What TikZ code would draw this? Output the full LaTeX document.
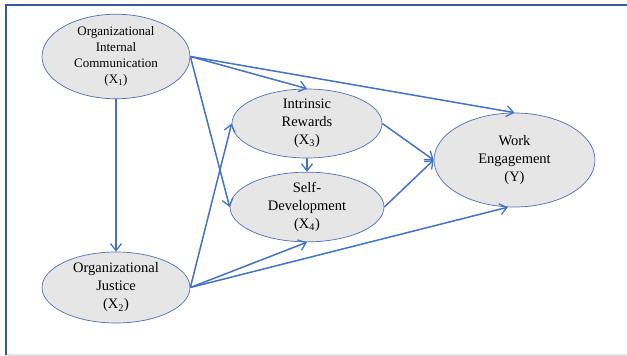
\documentclass[tikz,border=0pt]{standalone}
\usepackage{fontspec}
\setmainfont{Liberation Serif}
\usetikzlibrary{shapes.geometric,arrows.meta}
\definecolor{lineblue}{RGB}{68,114,196}
\definecolor{edgeblue}{RGB}{80,110,175}
\definecolor{fillgray}{RGB}{230,230,230}
\definecolor{botgray}{RGB}{225,225,235}
\tikzset{
  var/.style={ellipse, draw=edgeblue, line width=0.7pt, fill=fillgray, inner sep=0pt, align=center, font=\fontsize{14.5}{18}\selectfont},
  small/.style={font=\fontsize{13}{16}\selectfont},
  path/.style={draw=lineblue, line width=1.5pt, -{Straight Barb[length=7pt,width=11pt,line width=1.3pt]}}
}
\begin{document}
\begin{tikzpicture}[x=1pt,y=-1pt]
\useasboundingbox (0,0) rectangle (627,356);
\draw[botgray, line width=1.5pt] (6,355) -- (627,355);
\draw[lineblue!80!black, line width=2.2pt] (6,355) -- (6,5) -- (627,5);

\node[var, small, minimum width=148pt, minimum height=77pt] (x1) at (116,56.5) {Organizational\\Internal\\Communication\\(X\textsubscript{1})};
\node[var, minimum width=148pt, minimum height=71pt] (x2) at (116,287.5) {Organizational\\Justice\\(X\textsubscript{2})};
\node[var, minimum width=150pt, minimum height=69pt] (x3) at (307,123.5) {Intrinsic\\Rewards\\(X\textsubscript{3})};
\node[var, minimum width=154pt, minimum height=69pt] (x4) at (307,207) {Self-\\Development\\(X\textsubscript{4})};
\node[var, minimum width=161pt, minimum height=94pt] (y) at (514.5,160) {Work\\Engagement\\(Y)};

\draw[path] (x1.south) -- (x2.north);
\draw[path] (x1.east) -- (x3.north);
\draw[path] (x1.east) -- (y.north);
\draw[path] (x1.east) -- (x4.west);
\draw[path] (x2.east) -- (x3.west);
\draw[path] (x2.east) -- (x4.south);
\draw[path] (x2.east) -- (y.262);
\draw[path] (x3.south) -- (x4.north);
\draw[path] (x3.east) -- (y.west);
\draw[path] (x4.east) -- (y.west);
\end{tikzpicture}
\end{document}
